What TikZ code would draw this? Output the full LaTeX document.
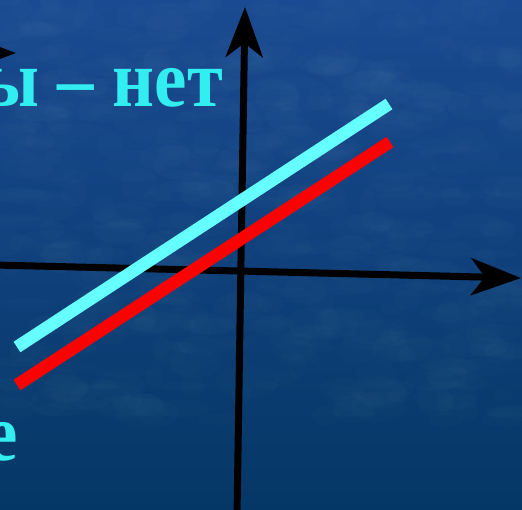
\documentclass[tikz,border=0pt]{standalone}
\usepackage{fontspec}
\setmainfont{Liberation Serif}
\newfontfamily\lblfont[FakeStretch=0.9]{Liberation Serif}
\usetikzlibrary{arrows.meta}
\definecolor{bgtop}{RGB}{26,74,145}
\definecolor{bgbot}{RGB}{5,55,102}
\definecolor{txtcyan}{RGB}{51,238,240}
\definecolor{linecyan}{RGB}{102,255,255}
\definecolor{linered}{RGB}{255,0,0}
\tikzset{
  axis/.style={line width=7pt, black, -{Stealth[length=50pt,width=37pt,inset=14pt]}},
  graphline/.style={line width=12.5pt, line cap=butt},
  label/.style={text=txtcyan, font=\lblfont\bfseries\fontsize{81}{90}\selectfont, inner sep=0pt},
  blotch/.style={fill=white, opacity=0.012}
}
\begin{document}
\begin{tikzpicture}[x=1pt,y=-1pt]
\useasboundingbox (0,0) rectangle (522,509);
\clip (0,0) rectangle (522,509);
\shade[top color=bgtop, bottom color=bgbot] (0,0) rectangle (522,509);
% subtle mottled texture
\pgfmathsetseed{11}
\foreach \i in {1,...,500} {
  \pgfmathsetmacro\bx{rnd*522}
  \pgfmathsetmacro\by{rnd*420}
  \pgfmathsetmacro\ba{rnd*25+8}
  \pgfmathsetmacro\bb{rnd*12+4}
  \fill[blotch] (\bx,\by) ellipse [x radius=\ba, y radius=\bb];
}
% axes
\coordinate (xs) at (-5,265);
\coordinate (xe) at (521,278);
\coordinate (ys) at (237,515);
\coordinate (ye) at (245,7);
\coordinate (ls) at (-120,53);
\coordinate (le) at (16,53);
\draw[axis] (xs) -- (xe);
\draw[axis] (ys) -- (ye);
\draw[axis] (ls) -- (le);
% lines
\coordinate (c1) at (17,347);
\coordinate (c2) at (389,104);
\coordinate (r1) at (17,385);
\coordinate (r2) at (390,142);
\draw[graphline, linecyan] (c1) -- (c2);
\draw[graphline, linered] (r1) -- (r2);
% texts
\node[label, anchor=base east] (t1) at (223,106) {ы – нет};
\node[label, anchor=base east] (t2) at (18,460) {е};
\end{tikzpicture}
\end{document}
